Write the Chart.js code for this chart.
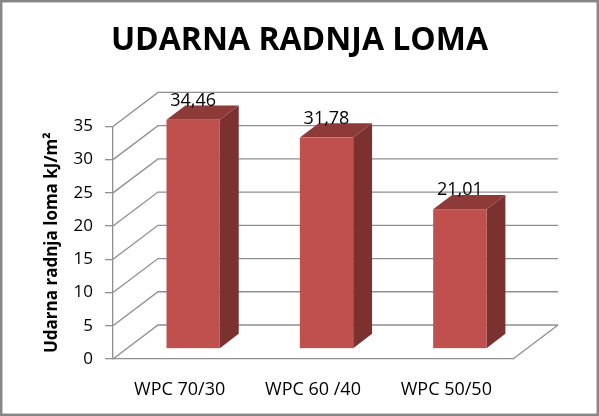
<!DOCTYPE html>
<html>
<head>
<meta charset="utf-8">
<script src="https://cdn.jsdelivr.net/npm/chart.js@4.4.1/dist/chart.umd.min.js"></script>
<style>
  html, body { margin: 0; padding: 0; background: #fff; }
  canvas { display: block; }
</style>
</head>
<body>
<canvas id="myChart" width="599" height="416"></canvas>
<script>
// podaci
const categories = ["WPC 70/30", "WPC 60 /40", "WPC 50/50"];
const values = [34.46, 31.78, 21.01];
const yTicks = [0, 5, 10, 15, 20, 25, 30, 35];

// 3D izgled (kosa projekcija)
const DX = 45, DY = -34;
const F0 = 0.3, F1 = 0.72;
const GRID = "#8f8f8f";

function fmt(v) {
  return v.toFixed(2).replace(".", ",");
}

const frame3d = {
  id: "frame3d",
  beforeDraw(chart) {
    const ctx = chart.ctx;
    ctx.save();
    ctx.fillStyle = "#fff";
    ctx.fillRect(0, 0, chart.width, chart.height);
    ctx.strokeStyle = "#878787";
    ctx.lineWidth = 2.5;
    ctx.strokeRect(1.2, 1.2, chart.width - 2.4, chart.height - 2.4);
    ctx.restore();
  },
  beforeDatasetsDraw(chart) {
    const ctx = chart.ctx;
    const a = chart.chartArea;
    const y = chart.scales.y;
    ctx.save();
    ctx.strokeStyle = GRID;
    ctx.lineWidth = 1.3;
    yTicks.forEach((v) => {
      const py = y.getPixelForValue(v);
      ctx.beginPath();
      ctx.moveTo(a.left, py);
      ctx.lineTo(a.left + DX, py + DY);
      ctx.lineTo(a.right + DX, py + DY);
      ctx.stroke();
    });
    // desni rub poda
    ctx.beginPath();
    ctx.moveTo(a.right, a.bottom);
    ctx.lineTo(a.right + DX, a.bottom + DY);
    ctx.stroke();
    ctx.restore();
  },
  afterDatasetsDraw(chart) {
    const ctx = chart.ctx;
    const meta = chart.getDatasetMeta(0);
    ctx.save();
    meta.data.forEach((bar, i) => {
      const w = bar.width;
      const x0 = bar.x - w / 2 + F0 * DX;
      const x1 = x0 + w;
      const top = bar.y + F0 * DY;
      const bot = bar.base + F0 * DY;
      const ddx = (F1 - F0) * DX, ddy = (F1 - F0) * DY;
      // bok
      ctx.fillStyle = "#7b3130";
      ctx.beginPath();
      ctx.moveTo(x1, top);
      ctx.lineTo(x1 + ddx, top + ddy);
      ctx.lineTo(x1 + ddx, bot + ddy);
      ctx.lineTo(x1, bot);
      ctx.closePath();
      ctx.fill();
      // vrh
      ctx.fillStyle = "#8e3a38";
      ctx.beginPath();
      ctx.moveTo(x0, top);
      ctx.lineTo(x0 + ddx, top + ddy);
      ctx.lineTo(x1 + ddx, top + ddy);
      ctx.lineTo(x1, top);
      ctx.closePath();
      ctx.fill();
      // prednja strana
      ctx.fillStyle = "#c0504d";
      ctx.fillRect(x0, top, w, bot - top);
      // oznaka vrijednosti
      ctx.fillStyle = "#000";
      ctx.font = "18px 'Open Sans'";
      ctx.textAlign = "center";
      ctx.textBaseline = "middle";
      ctx.fillText(fmt(values[i]), (x0 + x1) / 2, top - 19);
    });
    ctx.restore();
  },
};

const config = {
  type: "bar",
  data: {
    labels: categories,
    datasets: [
      {
        data: values,
        backgroundColor: "rgba(0,0,0,0)",
        borderWidth: 0,
        categoryPercentage: 1,
        barPercentage: 0.4,
      },
    ],
  },
  options: {
    responsive: false,
    animation: false,
    events: [],
    layout: { padding: 0 },
    plugins: {
      legend: { display: false },
      tooltip: { enabled: false },
      title: {
        display: true,
        text: "UDARNA RADNJA LOMA",
        color: "#000",
        font: { family: "Open Sans", size: 32, weight: "bold", lineHeight: 1.2 },
        padding: { top: 22, bottom: 66 },
      },
    },
    scales: {
      x: {
        grid: { display: false },
        border: { display: true, color: GRID, width: 1.3 },
        ticks: {
          color: "#000",
          font: { family: "Open Sans", size: 18 },
          padding: 12,
          maxRotation: 0,
        },
        afterFit(s) {
          s.height = 57;
        },
      },
      y: {
        min: 0,
        max: 35,
        ticks: {
          stepSize: 5,
          color: "#000",
          font: { family: "Open Sans", size: 17 },
          padding: 12,
        },
        grid: {
          drawOnChartArea: false,
          drawTicks: true,
          tickLength: 8,
          color: GRID,
          lineWidth: 1.3,
        },
        border: { display: true, color: GRID, width: 1.3 },
        title: {
          display: true,
          text: "Udarna radnja loma kJ/m²",
          color: "#000",
          font: { family: "Open Sans", size: 17, weight: "bold" },
          padding: { top: 42, bottom: 4 },
        },
        afterFit(s) {
          s.width = 113;
        },
      },
      // prazan desni prostor
      yRight: {
        position: "right",
        display: true,
        grid: { display: false },
        border: { display: false },
        ticks: { display: false },
        afterFit(s) {
          s.width = 86;
        },
      },
    },
  },
  plugins: [frame3d],
};

const chart = new Chart(document.getElementById("myChart"), config);
</script>
</body>
</html>
